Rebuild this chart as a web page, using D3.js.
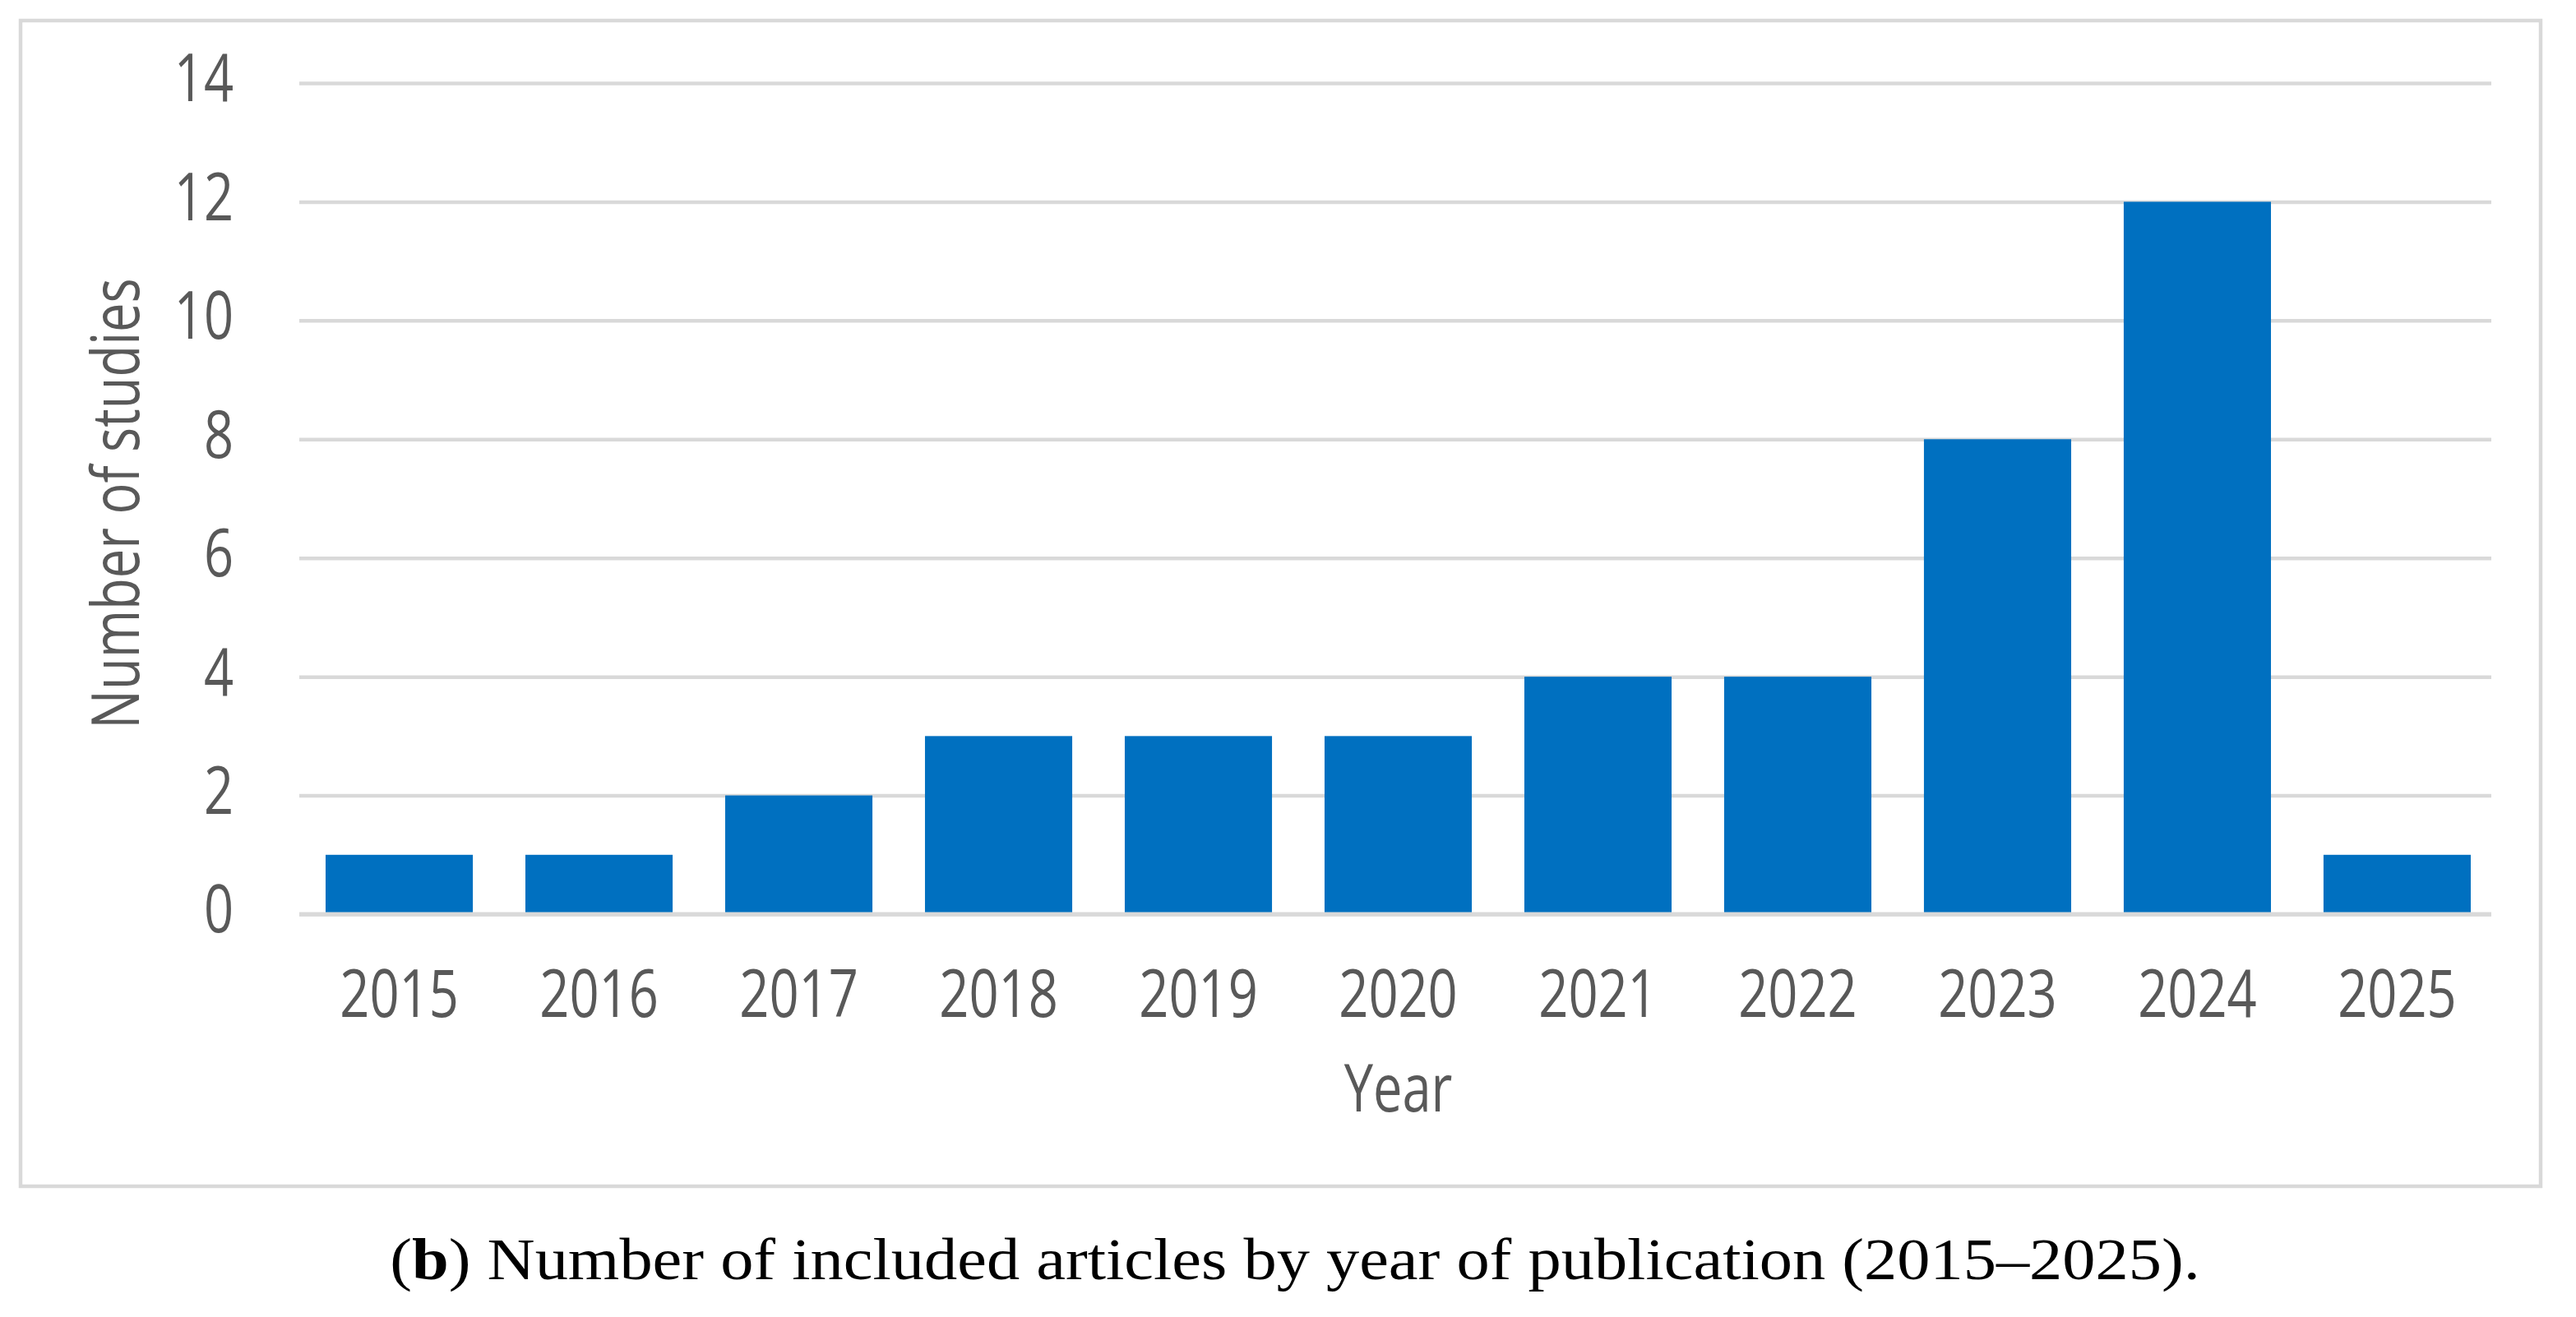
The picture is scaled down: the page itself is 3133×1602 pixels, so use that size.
<!DOCTYPE html>
<html>
<head>
<meta charset="utf-8">
<script src="https://cdn.jsdelivr.net/npm/d3@7"></script>
<style>
  body { margin: 0; background: #fff; }
  svg { display: block; }
</style>
</head>
<body>
<div id="chart"></div>
<script>
// data
var years = ["2015", "2016", "2017", "2018", "2019", "2020", "2021", "2022", "2023", "2024", "2025"];
var studies = [1, 1, 2, 3, 3, 3, 4, 4, 8, 12, 1];
var yTicks = [0, 2, 4, 6, 8, 10, 12, 14];

var svgWidth = 3133;
var svgHeight = 1602;

var plot = { left: 364, right: 3037, top: 101, bottom: 1112 };
var squeeze = 0.78;   // the chart text is horizontally condensed
var textColor = "#595959";
var gridColor = "#d9d9d9";
var font = "'Open Sans', 'Noto Sans', sans-serif";

var svg = d3.select("#chart")
  .append("svg")
  .attr("width", svgWidth)
  .attr("height", svgHeight);

// outer frame of the chart area
svg.append("rect")
  .attr("x", 25)
  .attr("y", 25)
  .attr("width", 3065)
  .attr("height", 1418)
  .attr("fill", "none")
  .attr("stroke", gridColor)
  .attr("stroke-width", 4.5);

var xScale = d3.scaleBand()
  .domain(years)
  .range([plot.left, plot.right])
  .paddingInner(0.263)
  .paddingOuter(0.1317);

var yScale = d3.scaleLinear()
  .domain([0, 14])
  .range([plot.bottom, plot.top]);

// y axis: gridlines + labels
var yAxis = svg.append("g")
  .attr("transform", `translate(${plot.left}, 0)`)
  .call(d3.axisLeft(yScale)
    .tickValues(yTicks)
    .tickSize(-(plot.right - plot.left - 7))
    .tickPadding(80));

yAxis.select(".domain").remove();
yAxis.selectAll("line")
  .attr("stroke", gridColor)
  .attr("stroke-width", 4.5);
yAxis.selectAll("text")
  .attr("x", -80 / squeeze)
  .attr("dy", "0.27em")
  .attr("transform", `scale(${squeeze},1)`)
  .style("font-family", font)
  .style("font-size", "81px")
  .style("fill", textColor);

// bars
svg.append("g")
  .selectAll("rect")
  .data(years)
  .enter()
  .append("rect")
  .attr("x", d => xScale(d))
  .attr("y", (d, i) => yScale(studies[i]))
  .attr("width", xScale.bandwidth())
  .attr("height", (d, i) => yScale(0) - yScale(studies[i]))
  .attr("fill", "#0070c0");

// x axis
var xAxis = svg.append("g")
  .attr("transform", `translate(0, ${plot.bottom})`)
  .call(d3.axisBottom(xScale).tickSize(0).tickPadding(0));

xAxis.select(".domain")
  .attr("d", `M${plot.left},0H${plot.right - 7}`)
  .attr("stroke", gridColor)
  .attr("stroke-width", 5);
xAxis.selectAll("text")
  .attr("y", 125)
  .attr("dy", null)
  .attr("transform", `scale(${squeeze},1)`)
  .attr("x", 0)
  .style("font-family", font)
  .style("font-size", "81px")
  .style("fill", textColor);
xAxis.selectAll(".tick")
  .attr("transform", d => `translate(${(xScale(d) + xScale.bandwidth() / 2)}, 0)`);

// axis titles
svg.append("text")
  .attr("transform", `translate(${(plot.left + plot.right) / 2}, 1352) scale(${squeeze},1)`)
  .attr("text-anchor", "middle")
  .style("font-family", font)
  .style("font-size", "81px")
  .style("fill", textColor)
  .text("Year");

svg.append("text")
  .attr("transform", `translate(169, ${(plot.top + plot.bottom) / 2 + 6}) rotate(-90) scale(${squeeze},1)`)
  .attr("text-anchor", "middle")
  .style("font-family", font)
  .style("font-size", "81px")
  .style("fill", textColor)
  .text("Number of studies");

// caption under the chart (the original serif is wider than Times, so stretch it)
var caption = svg.append("text")
  .attr("text-anchor", "middle")
  .style("font-family", "'Liberation Serif', 'DejaVu Serif', serif")
  .style("font-size", "72px")
  .style("fill", "#000");

caption.append("tspan").text("(");
caption.append("tspan").style("font-weight", "bold").text("b");
caption.append("tspan").text(") Number of included articles by year of publication (2015–2025).");

var captionWidth = 2202;
var stretch = captionWidth / caption.node().getComputedTextLength();
caption.attr("transform", `translate(1575, 1556) scale(${stretch},1)`);
</script>
</body>
</html>
